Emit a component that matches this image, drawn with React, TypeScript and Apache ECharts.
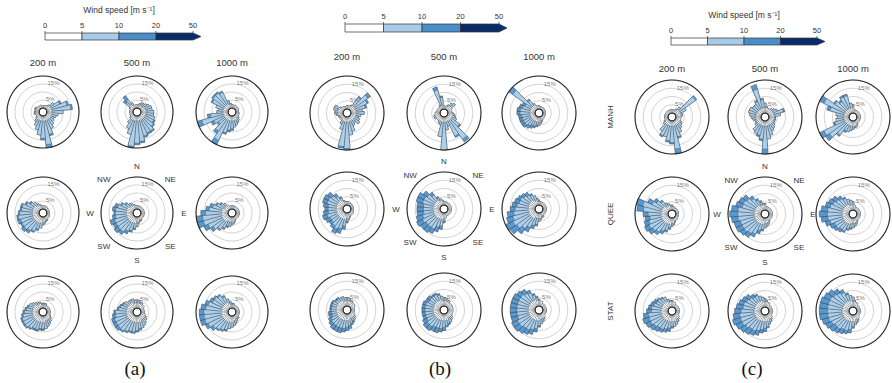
import React, { useEffect, useRef } from "react";
import * as echarts from "echarts";

// ---------- categories / labels ----------
const DIRS = ["0","10","20","30","40","50","60","70","80","90","100","110","120","130","140","150","160","170",
  "180","190","200","210","220","230","240","250","260","270","280","290","300","310","320","330","340","350"];
const HEIGHTS = ["200 m", "500 m", "1000 m"];
const SITES = ["MANH", "QUEE", "STAT"];
const SPEED_TICKS = ["0", "5", "10", "20", "50"];
const COMPASS = ["N", "NE", "E", "SE", "S", "SW", "W", "NW"];
const PANEL_NAMES = ["(a)", "(b)", "(c)"];
const RING_LABELS = ["5%", "15%"];
const RING_VALUES = [5, 15];
const RING_LABEL_DIR = [3, 2];

// ---------- frequencies (%) per 10° sector: total, below 10 m/s, below 5 m/s ----------
// panel (a)
const a_manh_200 = [1.5,1.5,1.5,2,3,6,10,14,16,10,7,6,5,6,7,9,13,20,15,12,9,7,5,3,2,2,3,3,2,3,3,2,2,1.5,2,1.5];
const a_manh_200_u10 = [1.5,1.5,1.5,2,3,6,9,13,15,10,7,6,5,6,7,9,12,18,14,12,9,7,5,3,2,2,3,3,2,3,3,2,2,1.5,2,1.5];
const a_manh_200_u5 = [1.5,1.5,1.5,2,2,3,3,3,3,3,3,3,3,3,3,3,3,3,3,3,3,3,3,2,2,2,2,2,2,2,2,2,2,1.5,2,1.5];
const a_manh_500 = [2,2,3,4,4,5,6,7,7,8,8,9,10,11,13,13,14,17,18,20,12,9,6,3,2,2,2,2,2,2,3,8,10,4,2,2];
const a_manh_500_u10 = [2,2,3,4,4,5,6,7,7,8,8,9,9,10,12,12,13,16,17,19,12,9,6,3,2,2,2,2,2,2,3,6,7,4,2,2];
const a_manh_500_u5 = [2,2,2,2,2,2,3,3,3,3,3,3,3,3,3,3,3,3,3,3,3,3,3,2,2,2,2,2,2,2,2,3,3,2,2,2];
const a_manh_1000 = [2,2,2,2,2,2,2,1.5,1.5,1.5,2,2,2,3,4,5,6,7,9,10,12,20,14,9,12,20,13,7,6,8,12,13,13,12,5,3];
const a_manh_1000_u10 = [2,2,2,2,2,2,2,1.5,1.5,1.5,2,2,2,3,4,5,6,7,8,9,11,17,12,8,10,17,11,7,6,8,11,12,12,11,5,3];
const a_manh_1000_u5 = [2,2,2,2,2,2,2,1.5,1.5,1.5,2,2,2,2,2,3,3,3,3,3,3,3,3,3,3,3,3,3,3,3,3,3,3,3,2,2];
const a_quee_200 = [2,2,2,2,1.5,1.5,1.5,1.5,1.5,1.5,1.5,1.5,2,2,2,3,3,4,5,7,9,11,13,14,13,14,14,13,12,12,10,8,6,4,3,2];
const a_quee_200_u10 = [2,2,2,2,1.5,1.5,1.5,1.5,1.5,1.5,1.5,1.5,2,2,2,3,3,4,5,7,8,10,11,12,12,12,13,12,11,11,9,7,6,4,3,2];
const a_quee_200_u5 = [2,2,2,2,1.5,1.5,1.5,1.5,1.5,1.5,1.5,1.5,2,2,2,2,2,3,3,4,4,4,4,4,4,4,4,4,4,4,4,4,3,3,2,2];
const a_quee_500 = [2,2,2,2,2,2,2,2,2,2,2,2,2,2,2,3,3,4,6,8,10,12,14,15,14,15,13,12,13,12,9,7,5,4,3,2];
const a_quee_500_u10 = [2,2,2,2,2,2,2,2,2,2,2,2,2,2,2,3,3,4,6,7,9,10,12,12,12,12,11,11,11,10,8,6,5,4,3,2];
const a_quee_500_u5 = [2,2,2,2,2,2,2,2,2,2,2,2,2,2,2,2,2,3,3,4,4,4,4,4,4,4,4,4,4,4,4,3,3,3,2,2];
const a_quee_1000 = [2,2,2,2,2,2,2,2,2,2,2,2,2,2,2,2,3,4,5,6,7,9,11,14,17,20,20,17,14,12,9,7,5,3,2,2];
const a_quee_1000_u10 = [2,2,2,2,2,2,2,2,2,2,2,2,2,2,2,2,3,4,5,6,6,8,10,12,14,16,16,14,12,10,8,6,5,3,2,2];
const a_quee_1000_u5 = [2,2,2,2,2,2,2,2,2,2,2,2,2,2,2,2,2,3,3,3,3,3,4,4,4,4,4,4,4,4,3,3,3,3,2,2];
const a_stat_200 = [3,3,3,2,2,2,2,2,2,2,2,2,3,4,5,6,7,8,9,9,10,10,11,12,12,12,11,10,9,8,7,6,5,4,4,3];
const a_stat_200_u10 = [3,3,3,2,2,2,2,2,2,2,2,2,3,4,5,6,7,8,8,8,9,9,10,11,11,11,10,9,8,7,7,6,5,4,4,3];
const a_stat_200_u5 = [2,2,2,2,2,2,2,2,2,2,2,2,2,3,3,3,3,4,4,4,4,4,4,4,4,4,4,4,4,4,4,4,3,3,3,2];
const a_stat_500 = [5,5,4,4,3,3,2,2,2,2,2,3,4,5,6,7,8,9,10,11,11,12,13,14,14,14,13,12,10,9,8,7,6,6,6,5];
const a_stat_500_u10 = [5,5,4,4,3,3,2,2,2,2,2,3,4,5,6,7,8,8,9,10,10,11,12,12,12,12,11,11,9,8,7,7,6,6,6,5];
const a_stat_500_u5 = [3,3,3,3,3,3,2,2,2,2,2,3,3,3,3,3,4,4,4,4,4,4,4,4,4,4,4,4,4,4,4,4,4,4,3,3];
const a_stat_1000 = [3,3,2,2,2,2,2,2,2,2,2,2,2,3,3,4,5,6,7,8,10,11,12,14,16,18,18,18,17,15,13,12,11,9,6,4];
const a_stat_1000_u10 = [3,3,2,2,2,2,2,2,2,2,2,2,2,3,3,4,5,6,7,8,9,10,11,12,14,15,15,15,14,13,11,11,10,8,6,4];
const a_stat_1000_u5 = [2,2,2,2,2,2,2,2,2,2,2,2,2,2,2,2,3,3,4,4,4,4,4,4,4,4,4,4,4,4,4,4,4,4,3,2];
// panel (b)
const b_manh_200 = [2,2,2,3,10,15,12,10,7,8,6,5,6,7,5,6,9,11,20,19,8,5,3,2,3,3,4,5,5,6,6,3,2,2,1.5,1.5];
const b_manh_200_u10 = [2,2,2,3,9,13,11,9,7,8,6,5,6,7,5,6,9,11,19,18,8,5,3,2,3,3,4,5,5,6,6,3,2,2,1.5,1.5];
const b_manh_200_u5 = [2,2,2,2,3,3,3,3,3,3,3,3,3,3,3,3,3,3,3,3,3,3,2,2,2,2,3,3,3,3,3,2,2,2,1.5,1.5];
const b_manh_500 = [2,1.5,2,3,5,6,3,2,2,3,4,5,6,10,19,14,6,8,20,12,5,4,3,3,4,4,3,3,2,2,2,2,2,3,14,8];
const b_manh_500_u10 = [2,1.5,2,3,5,6,3,2,2,3,4,5,6,9,17,13,6,8,20,12,5,4,3,3,4,4,3,3,2,2,2,2,2,3,12,7];
const b_manh_500_u5 = [2,1.5,2,2,3,3,3,2,2,2,3,3,3,3,3,3,3,3,3,3,3,3,3,3,3,3,3,3,2,2,2,2,2,2,2,2];
const b_manh_1000 = [2,1.5,1.5,1.5,1.5,1.5,1.5,1.5,1.5,1.5,1.5,1.5,1.5,1.5,2,2,3,4,5,6,7,8,9,10,10,10,10,11,11,10,9,20,8,4,2,2];
const b_manh_1000_u10 = [2,1.5,1.5,1.5,1.5,1.5,1.5,1.5,1.5,1.5,1.5,1.5,1.5,1.5,2,2,3,4,5,5,6,6,7,8,8,8,8,9,9,8,7,17,7,4,2,2];
const b_manh_1000_u5 = [2,1.5,1.5,1.5,1.5,1.5,1.5,1.5,1.5,1.5,1.5,1.5,1.5,1.5,2,2,2,2,3,3,3,3,3,3,3,3,3,3,3,3,3,3,3,3,2,2];
const b_quee_200 = [2,2,2,1.5,1.5,1.5,1.5,1.5,1.5,1.5,1.5,1.5,2,2,2,2,3,4,6,10,13,14,12,11,12,13,12,11,12,13,13,12,9,6,3,2];
const b_quee_200_u10 = [2,2,2,1.5,1.5,1.5,1.5,1.5,1.5,1.5,1.5,1.5,2,2,2,2,3,4,5,8,10,11,10,9,9,10,9,9,9,10,10,9,7,5,3,2];
const b_quee_200_u5 = [2,2,2,1.5,1.5,1.5,1.5,1.5,1.5,1.5,1.5,1.5,2,2,2,2,2,3,3,4,4,4,4,4,4,4,4,4,4,4,4,4,4,3,2,2];
const b_quee_500 = [2,2,2,2,2,2,2,2,2,2,2,2,2,2,2,2,2,3,6,10,12,14,15,15,16,15,14,14,14,15,15,13,10,6,4,3];
const b_quee_500_u10 = [2,2,2,2,2,2,2,2,2,2,2,2,2,2,2,2,2,3,5,8,9,11,11,11,12,11,10,10,10,11,11,10,8,5,4,3];
const b_quee_500_u5 = [2,2,2,2,2,2,2,2,2,2,2,2,2,2,2,2,2,3,3,4,4,4,4,4,4,4,4,4,4,4,4,4,4,3,3,2];
const b_quee_1000 = [3,2,2,2,2,2,2,2,2,2,2,2,2,2,2,3,3,4,5,8,10,13,16,19,20,18,17,15,14,13,12,11,10,8,6,4];
const b_quee_1000_u10 = [3,2,2,2,2,2,2,2,2,2,2,2,2,2,2,3,3,4,5,7,8,10,12,14,15,14,13,12,11,10,10,9,8,7,6,4];
const b_quee_1000_u5 = [2,2,2,2,2,2,2,2,2,2,2,2,2,2,2,2,2,3,3,3,3,4,4,4,4,4,4,4,4,4,4,4,4,3,3,2];
const b_stat_200 = [5,5,4,4,3,3,3,2,2,2,2,2,3,4,5,6,7,9,10,11,12,12,12,11,10,9,9,8,8,8,8,7,7,6,6,5];
const b_stat_200_u10 = [5,5,4,4,3,3,3,2,2,2,2,2,3,4,5,5,6,7,8,9,9,9,9,9,8,7,7,7,7,7,7,6,6,6,6,5];
const b_stat_200_u5 = [3,3,3,3,3,3,3,2,2,2,2,2,3,3,3,3,3,4,4,4,4,4,4,4,4,4,4,4,4,4,4,4,4,4,3,3];
const b_stat_500 = [5,5,4,4,3,3,3,3,3,3,3,3,3,4,5,6,7,8,10,11,12,12,13,13,12,11,11,11,11,11,10,10,9,9,8,6];
const b_stat_500_u10 = [5,5,4,4,3,3,3,3,3,3,3,3,3,4,5,6,6,7,8,9,9,9,10,10,9,9,9,9,9,9,8,8,8,8,7,6];
const b_stat_500_u5 = [3,3,3,3,3,3,3,3,3,3,3,3,3,3,3,3,4,4,4,4,4,4,4,4,4,4,4,4,4,4,4,4,4,4,4,3];
const b_stat_1000 = [4,3,3,2,2,2,2,2,2,2,2,2,2,2,3,4,5,6,8,11,13,14,15,16,16,15,15,15,15,15,15,14,13,11,8,6];
const b_stat_1000_u10 = [4,3,3,2,2,2,2,2,2,2,2,2,2,2,3,4,5,6,7,9,10,11,11,12,12,11,11,11,11,11,11,11,10,9,7,5];
const b_stat_1000_u5 = [3,3,3,2,2,2,2,2,2,2,2,2,2,2,3,3,3,3,4,4,4,4,4,4,4,4,4,4,4,4,4,4,4,4,4,3];
// panel (c)
const c_manh_200 = [2,2,2,3,5,16,7,4,4,3,3,3,4,5,6,8,11,20,14,13,10,11,8,4,3,2,2,2,2,2,2,2,2,2,2,2];
const c_manh_200_u10 = [2,2,2,3,5,15,7,4,4,3,3,3,4,5,6,8,10,17,13,12,10,10,8,4,3,2,2,2,2,2,2,2,2,2,2,2];
const c_manh_200_u5 = [2,2,2,2,3,3,3,3,3,3,3,3,3,3,3,3,3,3,3,3,3,3,3,3,2,2,2,2,2,2,2,2,2,2,2,2];
const c_manh_500 = [6,4,3,3,4,5,6,10,7,4,4,4,4,5,6,7,9,11,20,12,10,9,8,5,4,4,5,6,7,8,8,7,7,9,18,9];
const c_manh_500_u10 = [6,4,3,3,4,5,6,9,7,4,4,4,4,5,6,7,9,11,17,11,9,9,8,5,4,4,5,6,7,8,8,7,7,8,15,8];
const c_manh_500_u5 = [3,3,3,3,3,3,3,3,3,3,3,3,3,3,3,3,3,3,3,3,3,3,3,3,3,3,3,3,3,3,3,3,3,3,3,3];
const c_manh_1000 = [5,2,2,2,2,2,2,2,2,2,2,2,2,2,2,3,4,4,5,6,7,8,12,18,20,10,8,7,8,14,20,12,10,12,12,6];
const c_manh_1000_u10 = [5,2,2,2,2,2,2,2,2,2,2,2,2,2,2,3,4,4,5,6,7,7,11,15,17,9,8,7,8,12,17,11,9,11,11,6];
const c_manh_1000_u5 = [3,2,2,2,2,2,2,2,2,2,2,2,2,2,2,2,3,3,3,3,3,3,3,3,3,3,3,3,3,3,3,3,3,3,3,3];
const c_quee_200 = [3,2,2,1.5,1.5,1.5,1.5,1.5,1.5,1.5,1.5,1.5,1.5,2,2,2,3,4,5,7,9,11,13,15,16,15,14,15,19,20,14,11,8,5,4,3];
const c_quee_200_u10 = [3,2,2,1.5,1.5,1.5,1.5,1.5,1.5,1.5,1.5,1.5,1.5,2,2,2,3,4,5,6,8,9,11,12,13,12,11,12,15,16,11,9,7,5,4,3];
const c_quee_200_u5 = [2,2,2,1.5,1.5,1.5,1.5,1.5,1.5,1.5,1.5,1.5,1.5,2,2,2,2,3,3,4,4,4,4,4,4,4,4,4,4,4,4,4,3,3,3,2];
const c_quee_500 = [4,2,2,2,2,2,2,2,2,2,2,2,2,2,2,3,4,5,6,8,10,13,15,16,17,17,18,19,18,16,15,14,11,8,6,4];
const c_quee_500_u10 = [4,2,2,2,2,2,2,2,2,2,2,2,2,2,2,3,4,5,6,7,8,11,12,13,13,13,14,14,14,12,12,11,9,7,5,4];
const c_quee_500_u5 = [3,2,2,2,2,2,2,2,2,2,2,2,2,2,2,2,3,3,3,4,4,4,4,4,4,4,4,4,4,4,4,4,4,3,3,3];
const c_quee_1000 = [5,3,2,2,2,2,2,2,2,2,2,2,2,2,2,3,4,5,6,7,8,10,11,12,13,15,17,18,17,15,14,13,11,9,7,6];
const c_quee_1000_u10 = [5,3,2,2,2,2,2,2,2,2,2,2,2,2,2,3,4,5,6,6,7,9,9,10,10,12,13,13,13,12,11,10,9,8,7,6];
const c_quee_1000_u5 = [3,3,2,2,2,2,2,2,2,2,2,2,2,2,2,2,3,3,3,3,4,4,4,4,4,4,4,4,4,4,4,4,4,4,3,3];
const c_stat_200 = [4,3,3,2,2,2,2,2,2,2,2,2,2,3,4,5,6,7,8,10,11,12,13,14,15,16,15,13,12,11,10,9,8,7,5,4];
const c_stat_200_u10 = [4,3,3,2,2,2,2,2,2,2,2,2,2,3,4,5,6,7,7,8,9,10,10,11,12,12,12,10,10,9,8,8,7,7,5,4];
const c_stat_200_u5 = [3,3,3,2,2,2,2,2,2,2,2,2,2,3,3,3,4,4,4,4,4,4,4,4,4,4,4,4,4,4,4,4,4,4,3,3];
const c_stat_500 = [5,4,3,3,2,2,2,2,2,2,2,2,2,3,4,5,6,8,10,11,13,14,15,16,17,18,17,16,15,14,13,12,10,9,7,6];
const c_stat_500_u10 = [5,4,3,3,2,2,2,2,2,2,2,2,2,3,4,5,6,7,8,9,10,11,11,12,13,13,13,12,11,11,10,9,8,8,7,6];
const c_stat_500_u5 = [3,3,3,3,2,2,2,2,2,2,2,2,2,3,3,3,4,4,4,4,4,4,4,4,4,4,4,4,4,4,4,4,4,4,4,3];
const c_stat_1000 = [6,4,3,3,2,2,2,2,2,2,2,2,2,2,3,4,5,6,8,11,12,13,14,15,16,17,18,18,18,18,17,16,14,12,9,7];
const c_stat_1000_u10 = [6,4,3,3,2,2,2,2,2,2,2,2,2,2,3,4,5,6,7,9,10,10,11,11,12,13,13,13,13,13,13,12,11,10,8,7];
const c_stat_1000_u5 = [3,3,3,3,2,2,2,2,2,2,2,2,2,2,3,3,3,4,4,4,4,4,4,4,4,4,4,4,4,4,4,4,4,4,4,4];

const ROSES = [
  { p: 0, r: 0, c: 0, t: a_manh_200, u10: a_manh_200_u10, u5: a_manh_200_u5 },
  { p: 0, r: 0, c: 1, t: a_manh_500, u10: a_manh_500_u10, u5: a_manh_500_u5 },
  { p: 0, r: 0, c: 2, t: a_manh_1000, u10: a_manh_1000_u10, u5: a_manh_1000_u5 },
  { p: 0, r: 1, c: 0, t: a_quee_200, u10: a_quee_200_u10, u5: a_quee_200_u5 },
  { p: 0, r: 1, c: 1, t: a_quee_500, u10: a_quee_500_u10, u5: a_quee_500_u5 },
  { p: 0, r: 1, c: 2, t: a_quee_1000, u10: a_quee_1000_u10, u5: a_quee_1000_u5 },
  { p: 0, r: 2, c: 0, t: a_stat_200, u10: a_stat_200_u10, u5: a_stat_200_u5 },
  { p: 0, r: 2, c: 1, t: a_stat_500, u10: a_stat_500_u10, u5: a_stat_500_u5 },
  { p: 0, r: 2, c: 2, t: a_stat_1000, u10: a_stat_1000_u10, u5: a_stat_1000_u5 },
  { p: 1, r: 0, c: 0, t: b_manh_200, u10: b_manh_200_u10, u5: b_manh_200_u5 },
  { p: 1, r: 0, c: 1, t: b_manh_500, u10: b_manh_500_u10, u5: b_manh_500_u5 },
  { p: 1, r: 0, c: 2, t: b_manh_1000, u10: b_manh_1000_u10, u5: b_manh_1000_u5 },
  { p: 1, r: 1, c: 0, t: b_quee_200, u10: b_quee_200_u10, u5: b_quee_200_u5 },
  { p: 1, r: 1, c: 1, t: b_quee_500, u10: b_quee_500_u10, u5: b_quee_500_u5 },
  { p: 1, r: 1, c: 2, t: b_quee_1000, u10: b_quee_1000_u10, u5: b_quee_1000_u5 },
  { p: 1, r: 2, c: 0, t: b_stat_200, u10: b_stat_200_u10, u5: b_stat_200_u5 },
  { p: 1, r: 2, c: 1, t: b_stat_500, u10: b_stat_500_u10, u5: b_stat_500_u5 },
  { p: 1, r: 2, c: 2, t: b_stat_1000, u10: b_stat_1000_u10, u5: b_stat_1000_u5 },
  { p: 2, r: 0, c: 0, t: c_manh_200, u10: c_manh_200_u10, u5: c_manh_200_u5 },
  { p: 2, r: 0, c: 1, t: c_manh_500, u10: c_manh_500_u10, u5: c_manh_500_u5 },
  { p: 2, r: 0, c: 2, t: c_manh_1000, u10: c_manh_1000_u10, u5: c_manh_1000_u5 },
  { p: 2, r: 1, c: 0, t: c_quee_200, u10: c_quee_200_u10, u5: c_quee_200_u5 },
  { p: 2, r: 1, c: 1, t: c_quee_500, u10: c_quee_500_u10, u5: c_quee_500_u5 },
  { p: 2, r: 1, c: 2, t: c_quee_1000, u10: c_quee_1000_u10, u5: c_quee_1000_u5 },
  { p: 2, r: 2, c: 0, t: c_stat_200, u10: c_stat_200_u10, u5: c_stat_200_u5 },
  { p: 2, r: 2, c: 1, t: c_stat_500, u10: c_stat_500_u10, u5: c_stat_500_u5 },
  { p: 2, r: 2, c: 2, t: c_stat_1000, u10: c_stat_1000_u10, u5: c_stat_1000_u5 },
];

// ---------- layout & style ----------
const FONT = "'Liberation Sans', Arial, Helvetica, sans-serif";
const SERIF = "'Liberation Serif', 'Times New Roman', serif";
const SPEED_COLORS = ["#ffffff", "#a8cbe8", "#4a8dcb", "#0a2d69"];
const BAR_WHITE = "#ffffff";
const BAR_LIGHT = "#acd0ec";
const BAR_MED = "#5698d2";
const HOLE = 4;

const LAYOUT = [
  {
    cols: [43, 137, 232], rows: [112, 213, 312], R: 36, headerY: 62,
    cb: { x: 45, y: 33, w: 37, h: 7, tip: 8, labelY: 25 }, titleY: 10, showTitle: true,
    letter: [135, 368], siteX: null,
  },
  {
    cols: [347, 444, 539], rows: [113, 209, 310], R: 37, headerY: 56,
    cb: { x: 345, y: 24, w: 38.5, h: 8, tip: 8, labelY: 16 }, titleY: 2, showTitle: false,
    letter: [440, 368], siteX: null,
  },
  {
    cols: [672, 765, 853], rows: [117, 214, 311], R: 37, headerY: 68,
    cb: { x: 671, y: 38, w: 36.5, h: 7, tip: 8, labelY: 30 }, titleY: 15, showTitle: true,
    letter: [752, 368], siteX: 610,
  },
];

function buildOption() {
  const polar: any[] = [];
  const angleAxis: any[] = [];
  const radiusAxis: any[] = [];
  const series: any[] = [];

  ROSES.forEach((ro, k) => {
    const L = LAYOUT[ro.p];
    polar.push({ center: [L.cols[ro.c], L.rows[ro.r]], radius: [HOLE, L.R] });
    angleAxis.push({
      polarIndex: k, type: "category", data: DIRS, startAngle: 95, clockwise: true, z: 3,
      boundaryGap: true,
      axisLine: { show: true, lineStyle: { color: "#2a2a2a", width: 1.1 } },
      axisTick: { show: false }, axisLabel: { show: false },
      splitLine: { show: false }, splitArea: { show: false },
    });
    radiusAxis.push({
      polarIndex: k, type: "value", min: 0, max: 20, interval: 5, z: 1,
      axisLine: { show: false }, axisTick: { show: false }, axisLabel: { show: false },
      splitLine: { show: true, lineStyle: { color: "#c6c6c6", width: 0.8 } },
    });
    const mk = (data: number[], color: string, edge: string, bw: number) => ({
      type: "bar", coordinateSystem: "polar", polarIndex: k, data,
      barGap: "-100%", barCategoryGap: "0%", silent: true,
      itemStyle: { color, borderColor: edge, borderWidth: bw },
    });
    series.push(
      mk(ro.t, BAR_MED, "#2e2e2e", 0.45),
      mk(ro.u10, BAR_LIGHT, "#3a3a3a", 0.35),
      mk(ro.u5, BAR_WHITE, "#555555", 0.25),
    );
    series.push({
      type: "scatter", coordinateSystem: "polar", polarIndex: k, symbolSize: 0, silent: true, z: 4,
      data: RING_VALUES.map((v, i) => [v + 1.6, RING_LABEL_DIR[i]]),
      label: {
        show: true, position: "inside", fontSize: 6, color: "#555", fontFamily: FONT,
        formatter: (p: any) => RING_LABELS[p.dataIndex],
      },
    });
  });

  const graphic: any[] = [];
  const txt = (x: number, y: number, text: string, size: number, extra: any = {}) => ({
    type: "text", x, y, silent: true,
    style: { text, fontSize: size, fontFamily: FONT, fill: "#333", textAlign: "center", textVerticalAlign: "middle", ...extra },
  });

  LAYOUT.forEach((L, p) => {
    const cb = L.cb;
    SPEED_COLORS.forEach((col, i) => {
      const x0 = cb.x + i * cb.w;
      if (i < SPEED_COLORS.length - 1) {
        graphic.push({ type: "rect", silent: true, shape: { x: x0, y: cb.y, width: cb.w, height: cb.h }, style: { fill: col, stroke: "#333", lineWidth: 0.7 } });
      } else {
        graphic.push({
          type: "polygon", silent: true,
          shape: { points: [[x0, cb.y], [x0 + cb.w, cb.y], [x0 + cb.w + cb.tip, cb.y + cb.h / 2], [x0 + cb.w, cb.y + cb.h], [x0, cb.y + cb.h]] },
          style: { fill: col, stroke: "#333", lineWidth: 0.7 },
        });
      }
    });
    SPEED_TICKS.forEach((t, i) => {
      const x = cb.x + i * cb.w;
      graphic.push(txt(x, cb.labelY, t, 7.5));
      graphic.push({ type: "line", silent: true, shape: { x1: x, y1: cb.y - 2, x2: x, y2: cb.y }, style: { stroke: "#333", lineWidth: 0.7 } });
    });
    if (L.showTitle) {
      graphic.push(txt(cb.x + 2 * cb.w, L.titleY, "Wind speed [m s\u207B\u00B9]", 8.5));
    }
    HEIGHTS.forEach((h, c) => graphic.push(txt(L.cols[c], L.headerY, h, 9.5)));
    // compass labels around the centre rose
    const cx = L.cols[1], cy = L.rows[1], d = L.R + 11;
    COMPASS.forEach((lab, i) => {
      const a = (i * 45 * Math.PI) / 180;
      graphic.push(txt(cx + d * Math.sin(a), cy - d * Math.cos(a), lab, 8));
    });
    if (L.siteX !== null) {
      SITES.forEach((s, r) => graphic.push({
        type: "text", x: L.siteX, y: L.rows[r], rotation: Math.PI / 2, silent: true,
        style: { text: s, fontSize: 8, fontFamily: FONT, fill: "#333", textAlign: "center", textVerticalAlign: "middle" },
      }));
    }
    graphic.push(txt(L.letter[0], L.letter[1], PANEL_NAMES[p], 19, { fontFamily: SERIF, fill: "#111" }));
  });

  return { animation: false, backgroundColor: "#ffffff", polar, angleAxis, radiusAxis, series, graphic };
}

export default function App() {
  const ref = useRef<HTMLDivElement>(null);
  useEffect(() => {
    if (!ref.current) return;
    const chart = echarts.init(ref.current, null, { renderer: "svg" });
    chart.setOption(buildOption() as any);
    return () => chart.dispose();
  }, []);
  return <div ref={ref} style={{ position: "fixed", left: 0, top: 0, width: 892, height: 383, background: "#fff" }} />;
}
